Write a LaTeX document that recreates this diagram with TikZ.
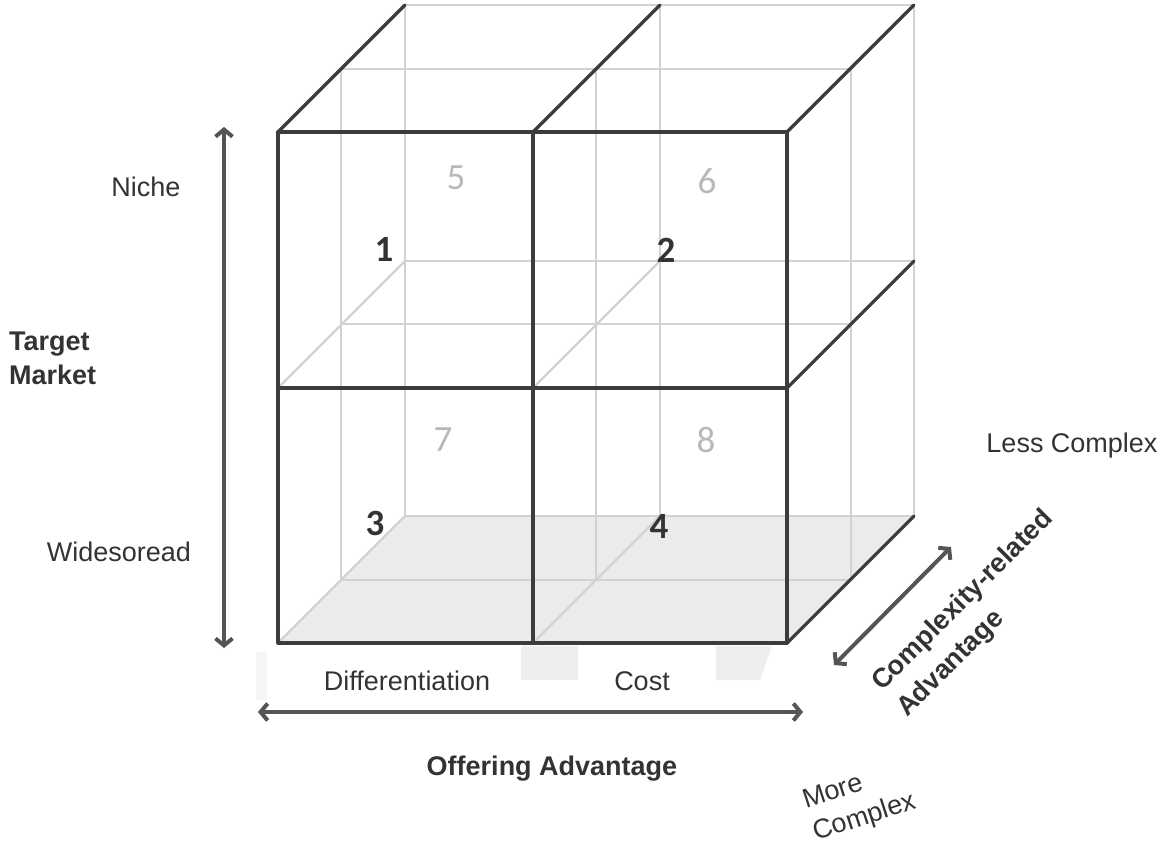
\documentclass[tikz,border=0pt]{standalone}
\usepackage{fontspec}
\setmainfont{Liberation Sans}
\newfontfamily\numfont{Carlito}
\usetikzlibrary{arrows.meta}
\definecolor{darkline}{HTML}{3C3C3C}
\definecolor{lightline}{HTML}{D2D2D2}
\definecolor{floorgray}{HTML}{EBEBEB}
\definecolor{patchgray}{HTML}{EEEEEE}
\definecolor{numgray}{HTML}{B8B8B8}
\definecolor{txt}{HTML}{333333}
\definecolor{arrowgray}{HTML}{555555}
\tikzset{
  darkedge/.style={draw=darkline, line width=3.2pt, line cap=round, line join=round},
  lightedge/.style={draw=lightline, line width=2.4pt},
  label/.style={font=\fontsize{27}{32}\selectfont, text=txt, inner sep=0pt},
  boldlabel/.style={font=\fontsize{27}{32}\selectfont\bfseries, text=txt, inner sep=0pt},
  frontnum/.style={font=\numfont\fontsize{37}{40}\selectfont\bfseries, text=txt, inner sep=0pt},
  backnum/.style={font=\numfont\fontsize{37}{40}\selectfont, text=numgray, inner sep=0pt},
  axisarrow/.style={draw=arrowgray, line width=4pt,
    {Straight Barb[length=7pt,width=17pt]}-{Straight Barb[length=7pt,width=17pt]}},
}
\begin{document}
\begin{tikzpicture}[x=1pt,y=-1pt]
\useasboundingbox (0,0) rectangle (1164,848);
% front face corners
\coordinate (F1) at (278,132); \coordinate (F2) at (533,132); \coordinate (F3) at (787,132);
\coordinate (F4) at (278,388); \coordinate (F5) at (533,388); \coordinate (F6) at (787,388);
\coordinate (F7) at (278,643); \coordinate (F8) at (533,643); \coordinate (F9) at (787,643);
% back face corners
\coordinate (B1) at (405,5);   \coordinate (B2) at (660,5);   \coordinate (B3) at (914,5);
\coordinate (B4) at (405,261); \coordinate (B5) at (660,261); \coordinate (B6) at (914,261);
\coordinate (B7) at (405,516); \coordinate (B8) at (660,516); \coordinate (B9) at (914,516);
% middle plane corners
\coordinate (M1) at (341,69);  \coordinate (M3) at (851,69);
\coordinate (M7) at (341,580); \coordinate (M9) at (851,580);
\coordinate (M2) at (596,69);  \coordinate (M8) at (596,580);
\coordinate (M4) at (341,324); \coordinate (M6) at (851,324);

% floor shading and patches
\fill[floorgray] (F7) -- (F9) -- (B9) -- (B7) -- cycle;
\fill[patchgray] (521,646) rectangle (578,680);
\fill[patchgray] (716,646) -- (772,646) -- (760,680) -- (716,680) -- cycle;
\fill[patchgray!60] (256,652) rectangle (267,700);

% light (hidden) lines
\draw[lightedge] (B1) rectangle (B9);
\draw[lightedge] (B2) -- (B8);
\draw[lightedge] (B4) -- (B6);
\draw[lightedge] (M1) rectangle (M9);
\draw[lightedge] (M2) -- (M8);
\draw[lightedge] (M4) -- (M6);
\draw[lightedge] (F4) -- (B4);
\draw[lightedge] (F5) -- (B5);
\draw[lightedge] (F7) -- (B7);
\draw[lightedge] (F8) -- (B8);

% dark (visible) lines
\draw[darkedge] (F1) rectangle (F9);
\draw[darkedge] (F2) -- (F8);
\draw[darkedge] (F4) -- (F6);
\draw[darkedge] (F1) -- (B1);
\draw[darkedge] (F2) -- (B2);
\draw[darkedge] (F3) -- (B3);
\draw[darkedge] (F6) -- (B6);
\draw[darkedge] (F9) -- (B9);

% cell numbers
\node[frontnum] (n1) at (384,249) {1};
\node[frontnum] (n2) at (666,250) {2};
\node[frontnum] (n3) at (375,523) {3};
\node[frontnum] (n4) at (659,526) {4};
\node[backnum] (n5) at (456,178) {5};
\node[backnum] (n6) at (707,181) {6};
\node[backnum] (n7) at (443,440) {7};
\node[backnum] (n8) at (706,440) {8};

% axes
\coordinate (vtop) at (224,127);
\coordinate (vbot) at (224,648);
\draw[axisarrow] (vtop) -- (vbot);
\coordinate (hleft) at (258,712);
\coordinate (hright) at (803,712);
\draw[axisarrow] (hleft) -- (hright);
\coordinate (dlow) at (834,665);
\coordinate (dhigh) at (951,547);
\draw[axisarrow] (dlow) -- (dhigh);

% labels
\node[label, anchor=base] (niche) at (146,196) {Niche};
\node[label, anchor=base] (wide) at (119,561) {Widesoread};
\node[boldlabel, anchor=base west] (tgt) at (9,350) {Target};
\node[boldlabel, anchor=base west] (mkt) at (9,384) {Market};
\node[label, anchor=base] (diff) at (407,690) {Differentiation};
\node[label, anchor=base] (cost) at (642,690) {Cost};
\node[boldlabel, anchor=base] (offer) at (552,775) {Offering Advantage};
\node[label, anchor=base] (less) at (1072,452) {Less Complex};
\node[boldlabel, anchor=base west, rotate=45] (cra1) at (882,692) {Complexity-related};
\node[boldlabel, anchor=base west, rotate=45] (cra2) at (907,718) {Advantage};
\node[label, anchor=base west, rotate=18] (more1) at (806,809) {More};
\node[label, anchor=base west, rotate=18] (more2) at (816,841) {Complex};
\end{tikzpicture}
\end{document}
